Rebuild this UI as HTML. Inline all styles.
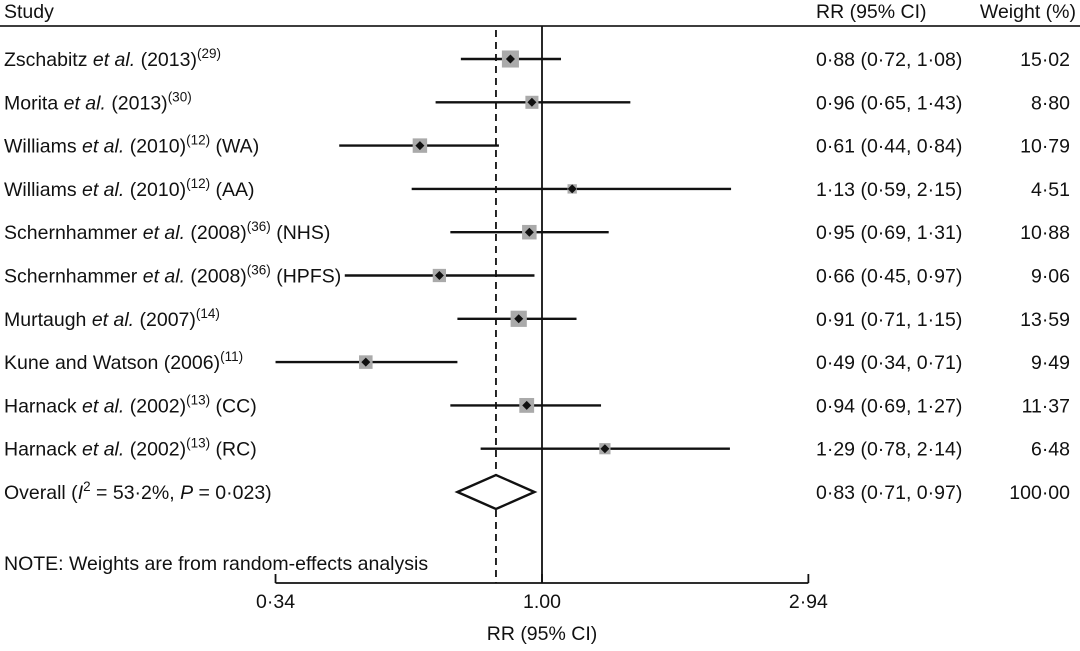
<!DOCTYPE html>
<html><head><meta charset="utf-8"><style>
body{margin:0;background:#fff;}
svg text{font-family:"Liberation Sans",Arial,sans-serif;font-size:19.5px;fill:#111;}
</style></head><body>
<svg id="plot" width="1080" height="646">
<text x="4" y="18">Study</text>
<text x="816" y="18">RR (95% CI)</text>
<text x="1076" y="18" text-anchor="end">Weight (%)</text>
<line x1="0" y1="26" x2="1080" y2="26" stroke="#222" stroke-width="1.8"/>
<g id="rows"></g>
<text x="4" y="570">NOTE: Weights are from random-effects analysis</text>
<text x="542" y="640" text-anchor="middle">RR (95% CI)</text>
</svg>
<script>
const studies=["Zschabitz|et al.|(2013)|(29)|","Morita|et al.|(2013)|(30)|","Williams|et al.|(2010)|(12)| (WA)","Williams|et al.|(2010)|(12)| (AA)","Schernhammer|et al.|(2008)|(36)| (NHS)","Schernhammer|et al.|(2008)|(36)| (HPFS)","Murtaugh|et al.|(2007)|(14)|","Kune and Watson||(2006)|(11)|","Harnack|et al.|(2002)|(13)| (CC)","Harnack|et al.|(2002)|(13)| (RC)"];
const rr=[0.88,0.96,0.61,1.13,0.95,0.66,0.91,0.49,0.94,1.29];
const lo=[0.72,0.65,0.44,0.59,0.69,0.45,0.71,0.34,0.69,0.78];
const hi=[1.08,1.43,0.84,2.15,1.31,0.97,1.15,0.71,1.27,2.14];
const weights=[15.02,8.80,10.79,4.51,10.88,9.06,13.59,9.49,11.37,6.48];
const overall=[0.83,0.71,0.97];
const ticks=[0.34,1.00,2.94];
const tickLabels=["0·34","1.00","2·94"];
const NS="http://www.w3.org/2000/svg";
const g=document.getElementById('rows');
const X=v=>542+247*Math.log(v);
const Y=i=>59+43.3*i;
const fmt=v=>v.toFixed(2).replace('.','·');
function el(t,a,p){const e=document.createElementNS(NS,t);for(const k in a)e.setAttribute(k,a[k]);(p||g).appendChild(e);return e;}
const rl=el('line',{x1:X(1),y1:26,x2:X(1),y2:583,stroke:'#111','stroke-width':1.8});


const dl=el('line',{x1:X(overall[0]),y1:30,x2:X(overall[0]),y2:583,stroke:'#111','stroke-width':1.8,'stroke-dasharray':'7,5'});


rr.forEach((v,i)=>{
 const y=Y(i);const p=studies[i].split('|');
 const t=el('text',{x:4,y:y+7});
 
 
 t.appendChild(document.createTextNode(p[0]+' '));
 if(p[1]){const it=el('tspan',{'font-style':'italic'},t);it.textContent=p[1];t.appendChild(document.createTextNode(' '));}
 t.appendChild(document.createTextNode(p[2]));
 const sup=el('tspan',{dy:-8,'font-size':13.5},t);sup.textContent=p[3];
 const rest=el('tspan',{dy:8},t);rest.textContent=p[4]||'';
 const ci=el('line',{x1:X(lo[i]),y1:y,x2:X(hi[i]),y2:y,stroke:'#111','stroke-width':2.4});
 
 
 const sz=4.4*Math.sqrt(weights[i]);
 const b=el('rect',{x:X(v)-sz/2,y:y-sz/2,width:sz,height:sz,fill:'#aaa'});
 
 
 const d=el('polygon',{points:`${X(v)-4.5},${y} ${X(v)},${y-4.5} ${X(v)+4.5},${y} ${X(v)},${y+4.5}`,fill:'#111'});
 
 
 const r=el('text',{x:816,y:y+7});r.textContent=`${fmt(v)} (${fmt(lo[i])}, ${fmt(hi[i])})`;
 
 
 const w=el('text',{x:1070,y:y+7,'text-anchor':'end'});w.textContent=weights[i].toFixed(2).replace('.','·');
 
 
});
const yo=Y(10);
const ot=el('text',{x:4,y:yo+7});


ot.appendChild(document.createTextNode('Overall ('));
let a=el('tspan',{'font-style':'italic'},ot);a.textContent='I';
a=el('tspan',{dy:-8,'font-size':13.5},ot);a.textContent='2';
a=el('tspan',{dy:8},ot);a.textContent=' = 53·2%, ';
a=el('tspan',{'font-style':'italic'},ot);a.textContent='P';
a=el('tspan',{},ot);a.textContent=' = 0·023)';
const dm=el('polygon',{points:`${X(overall[1])},${yo} ${X(overall[0])},${yo-17} ${X(overall[2])},${yo} ${X(overall[0])},${yo+17}`,fill:'#fff',stroke:'#111','stroke-width':2.4});


const orr=el('text',{x:816,y:yo+7});orr.textContent=`${fmt(overall[0])} (${fmt(overall[1])}, ${fmt(overall[2])})`;


const ow=el('text',{x:1070,y:yo+7,'text-anchor':'end'});ow.textContent='100·00';


const ax=el('line',{x1:X(ticks[0]),y1:583,x2:X(ticks[2]),y2:583,stroke:'#111','stroke-width':1.8});


ticks.forEach((v,i)=>{
 const tk=el('line',{x1:X(v),y1:574,x2:X(v),y2:583,stroke:'#111','stroke-width':1.8});
 
 
 const tl=el('text',{x:X(v),y:608,'text-anchor':'middle'});tl.textContent=tickLabels[i];
 
 
});
</script>
</body></html>
